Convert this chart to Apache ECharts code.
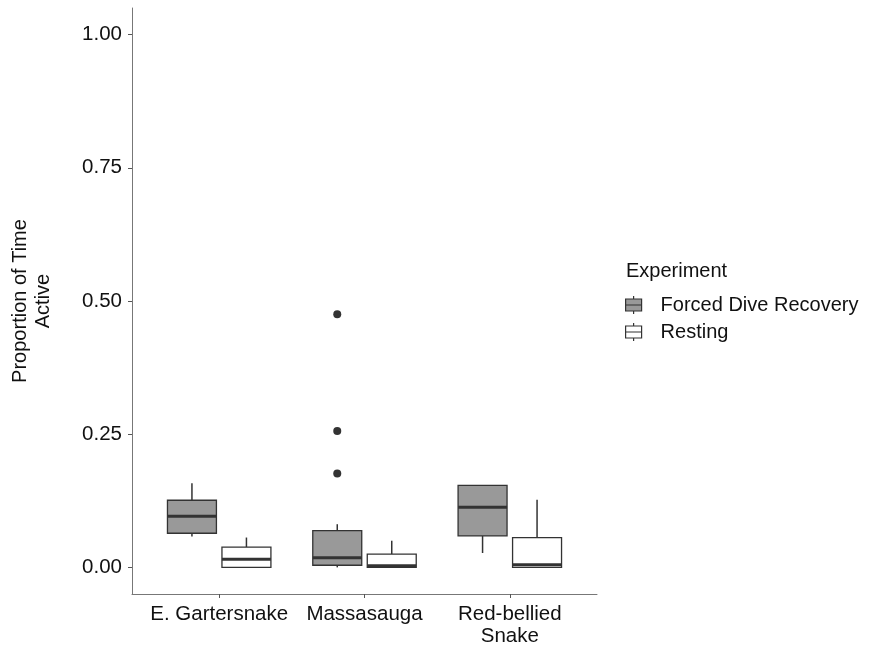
<!DOCTYPE html>
<html>
<head>
<meta charset="utf-8">
<script src="https://cdn.jsdelivr.net/npm/echarts@6/dist/echarts.min.js"></script>
<style>html,body{margin:0;padding:0;background:#fff;}#c{width:871px;height:650px;}</style>
</head>
<body>
<div id="c"></div>
<script>
// ---- data ----
const categories = ['E. Gartersnake', 'Massasauga', 'Red-bellied\nSnake'];
const seriesNames = ['Forced Dive Recovery', 'Resting'];
// [min, q1, median, q3, max] per category
const fdrStats = [
  [0.058, 0.064, 0.096, 0.126, 0.158],
  [0.000, 0.004, 0.018, 0.069, 0.081],
  [0.027, 0.059, 0.113, 0.154, 0.154]
];
const restStats = [
  [0.000, 0.000, 0.015, 0.038, 0.056],
  [0.000, 0.000, 0.003, 0.025, 0.050],
  [0.000, 0.000, 0.005, 0.056, 0.127]
];
// outliers: [category index, value]
const fdrOutliers = [[1, 0.475], [1, 0.256], [1, 0.176]];
const yTicks = [0, 0.25, 0.5, 0.75, 1];

// ---- build ----
const FONT = 'Liberation Sans, Arial, sans-serif';
const DODGE = 0.1875;
const BOXW = 0.337;
const fills = ['#999999', '#ffffff'];
const dark = '#333333';

function makeRender(offset, fill) {
  return function (params, api) {
    const c = api.value(0) + 1 + offset;
    const lo = api.value(1), q1 = api.value(2), med = api.value(3), q3 = api.value(4), hi = api.value(5);
    const h = BOXW / 2;
    const tl = api.coord([c - h, q3]);
    const br = api.coord([c + h, q1]);
    const mL = api.coord([c - h, med]);
    const mR = api.coord([c + h, med]);
    const pHi = api.coord([c, hi]);
    const pLo = api.coord([c, lo]);
    return {
      type: 'group',
      children: [
        { type: 'line', shape: { x1: pHi[0], y1: pHi[1], x2: pHi[0], y2: tl[1] }, style: { stroke: dark, lineWidth: 1.5 } },
        { type: 'line', shape: { x1: pLo[0], y1: br[1], x2: pLo[0], y2: pLo[1] }, style: { stroke: dark, lineWidth: 1.5 } },
        { type: 'rect', shape: { x: tl[0], y: tl[1], width: br[0] - tl[0], height: Math.max(br[1] - tl[1], 0.5) }, style: { fill: fill, stroke: dark, lineWidth: 1.3 } },
        { type: 'line', shape: { x1: mL[0], y1: mL[1], x2: mR[0], y2: mR[1] }, style: { stroke: dark, lineWidth: 3 } }
      ]
    };
  };
}

const fdrData = fdrStats.map((s, i) => [i].concat(s));
const restData = restStats.map((s, i) => [i].concat(s));
const outlierData = fdrOutliers.map(o => [o[0] + 1 - DODGE, o[1]]);

const iconPath = 'path://M9,0 V3 M1,3 H17 V15 H1 Z M1,9 H17 M9,15 V18';

const chart = echarts.init(document.getElementById('c'), null, { renderer: 'canvas' });
chart.setOption({
  animation: false,
  backgroundColor: '#ffffff',
  textStyle: { fontFamily: FONT },
  title: {
    text: 'Experiment', left: 621, top: 256,
    textStyle: { fontFamily: FONT, fontSize: 20, fontWeight: 'normal', color: '#111' }
  },
  legend: {
    orient: 'vertical', left: 620, top: 290,
    itemWidth: 18, itemHeight: 18, itemGap: 7,
    icon: iconPath,
    textStyle: { fontFamily: FONT, fontSize: 20, color: '#111', padding: [0, 0, 0, 13] },
    data: [
      { name: seriesNames[0], itemStyle: { color: fills[0], borderColor: dark, borderWidth: 1.2 } },
      { name: seriesNames[1], itemStyle: { color: fills[1], borderColor: dark, borderWidth: 1.2 } }
    ]
  },
  grid: { left: 132, right: 274, top: 8, bottom: 56, outerBoundsMode: 'none', containLabel: false },
  xAxis: {
    type: 'value', min: 0.4, max: 3.6,
    axisLine: { show: true, onZero: false, lineStyle: { color: '#777', width: 1 } },
    axisTick: { show: true, customValues: [1, 2, 3], length: 4, lineStyle: { color: '#555' } },
    axisLabel: {
      customValues: [1, 2, 3], margin: 9,
      formatter: v => categories[Math.round(v) - 1],
      fontFamily: FONT, fontSize: 20.5, color: '#111', lineHeight: 22
    },
    splitLine: { show: false }
  },
  yAxis: {
    type: 'value', min: -0.05, max: 1.05,
    name: 'Proportion of Time\nActive', nameLocation: 'middle', nameRotate: 90, nameGap: 77,
    nameTextStyle: { fontFamily: FONT, fontSize: 20, color: '#111', lineHeight: 23 },
    axisLine: { show: true, onZero: false, lineStyle: { color: '#777', width: 1 } },
    axisTick: { show: true, customValues: yTicks, length: 4, lineStyle: { color: '#555' } },
    axisLabel: {
      customValues: yTicks, margin: 10,
      formatter: v => v.toFixed(2),
      fontFamily: FONT, fontSize: 20.5, color: '#111'
    },
    splitLine: { show: false }
  },
  series: [
    {
      name: seriesNames[0], type: 'custom',
      itemStyle: { color: fills[0], borderColor: dark },
      renderItem: makeRender(-DODGE, fills[0]),
      encode: { x: 0, y: [1, 2, 3, 4, 5] },
      data: fdrData
    },
    {
      name: seriesNames[1], type: 'custom',
      itemStyle: { color: fills[1], borderColor: dark },
      renderItem: makeRender(DODGE, fills[1]),
      encode: { x: 0, y: [1, 2, 3, 4, 5] },
      data: restData
    },
    {
      name: 'outliers', type: 'scatter', symbol: 'circle', symbolSize: 8,
      itemStyle: { color: dark, opacity: 1 }, z: 5,
      data: outlierData
    }
  ]
});
</script>
</body>
</html>
